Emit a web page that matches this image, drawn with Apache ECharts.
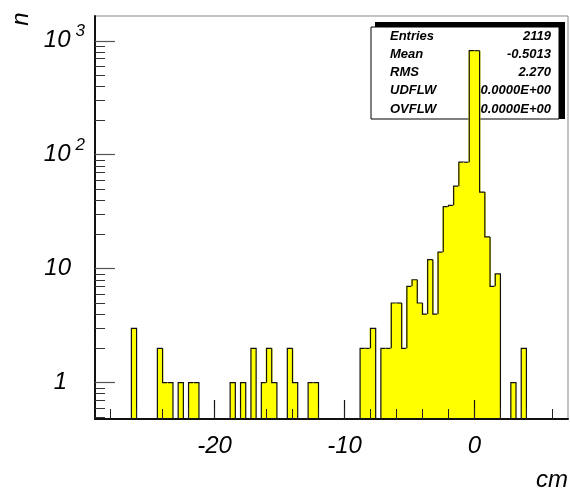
<!DOCTYPE html>
<html>
<head>
<meta charset="utf-8">
<script src="https://cdn.jsdelivr.net/npm/echarts@6/dist/echarts.min.js"></script>
<style>
html,body{margin:0;padding:0;background:#fff;}
#c{width:570px;height:490px;}
</style>
</head>
<body>
<div id="c"></div>
<script>
// ---- data ----
const binLow = -29.2;
const binWidth = 0.4;
const counts = [
  0,0,0,0,0,0,0,3,0,0,      // 0-9
  0,0,2,1,1,0,1,0,1,1,      // 10-19
  0,0,0,0,0,0,1,0,1,0,      // 20-29
  2,0,1,2,1,0,0,2,1,0,      // 30-39
  0,1,1,0,0,0,0,0,0,0,      // 40-49
  0,2,2,3,0,2,2,5,5,2,      // 50-59
  7,8,5,4,12,4,14,35,36,53, // 60-69
  86,86,819,819,47,19,7,9,0,0, // 70-79
  1,0,2,0,0,0,0,0,0,0,      // 80-89
  0                         // 90
];
const xMin = -29.2, xMax = 7.2;
const yMin = 0.48, yMax = 1650;
const xMajorTicks = [-20, -10, 0];
const xMinorTicks = [-28,-26,-24,-22,-20,-18,-16,-14,-12,-10,-8,-6,-4,-2,0,2,4,6];
const yMajorTicks = [1, 10, 100, 1000];
const yMinorTicks = [0.5,0.6,0.7,0.8,0.9,2,3,4,5,6,7,8,9,20,30,40,50,60,70,80,90,200,300,400,500,600,700,800,900];
const statLabels = ['Entries', 'Mean', 'RMS', 'UDFLW', 'OVFLW'];
const statValues = ['2119', '-0.5013', '2.270', '0.0000E+00', '0.0000E+00'];

// ---- build series data ----
const histData = [];
for (let i = 0; i < counts.length; i++) {
  if (counts[i] > 0) {
    const x0 = binLow + i * binWidth;
    histData.push([x0, x0 + binWidth, counts[i], i > 0 ? counts[i-1] : 0, i < counts.length - 1 ? counts[i+1] : 0]);
  }
}

const FONT = 'Liberation Sans, Arial, Helvetica, sans-serif';

function renderHist(params, api) {
  const x0 = api.value(0), x1 = api.value(1), c = api.value(2);
  const prev = api.value(3), next = api.value(4);
  const pTop0 = api.coord([x0, c]);
  const pTop1 = api.coord([x1, c]);
  const pBot = api.coord([x1, yMin]);
  const prevY = api.coord([x0, prev > 0 ? prev : yMin])[1];
  const pts = [[pTop0[0], prevY], [pTop0[0], pTop0[1]], [pTop1[0], pTop1[1]]];
  if (!(next > 0)) pts.push([pTop1[0], pBot[1]]);
  const padL = prev > 0 ? 0.8 : 0;
  const padR = next > 0 ? 0.8 : 0;
  return {
    type: 'group',
    children: [
      { type: 'rect', shape: { x: pTop0[0] - padL, y: pTop0[1], width: pTop1[0] - pTop0[0] + padL + padR, height: pBot[1] - pTop0[1] },
        style: { fill: '#ffff00' } },
      { type: 'polyline', shape: { points: pts }, style: { stroke: '#111', lineWidth: 1.2, fill: null } }
    ]
  };
}

const labelRich = {
  b: { fontSize: 24, fontStyle: 'italic', fontFamily: FONT, color: '#000', lineHeight: 36 },
  s: { fontSize: 17, fontStyle: 'italic', fontFamily: FONT, color: '#000', lineHeight: 18, verticalAlign: 'top', padding: [0, 0, 0, 5] },
  g1: { width: 18, lineHeight: 36 },
  g2: { width: 14, lineHeight: 36 }
};

function yFmt(v) {
  const e = Math.round(Math.log10(v));
  if (e === 0) return '{b|1}{g1| }';
  if (e === 1) return '{b|10}{g2| }';
  return '{b|10}{s|' + e + '}';
}

const statGraphics = [
  { type: 'rect', shape: { x: 375, y: 22, width: 190, height: 97 }, style: { fill: '#000' } },
  { type: 'rect', shape: { x: 371, y: 27, width: 188, height: 92 }, style: { fill: '#fff', stroke: '#000', lineWidth: 1 } }
];
statLabels.forEach((t, i) => {
  statGraphics.push({ type: 'text', x: 390, y: 36 + 18.3 * i,
    style: { text: t, font: 'italic bold 13px ' + FONT, fill: '#000', align: 'left', verticalAlign: 'middle' } });
  statGraphics.push({ type: 'text', x: 551, y: 36 + 18.3 * i,
    style: { text: statValues[i], font: 'italic bold 13px ' + FONT, fill: '#000', align: 'right', verticalAlign: 'middle' } });
});
statGraphics.push({ type: 'text', x: 21, y: 19, rotation: Math.PI / 2,
  style: { text: 'n', font: 'italic 24px ' + FONT, fill: '#000', align: 'center', verticalAlign: 'middle' } });
statGraphics.push({ type: 'text', x: 568, y: 480,
  style: { text: 'cm', font: 'italic 24px ' + FONT, fill: '#000', align: 'right', verticalAlign: 'middle' } });

const chart = echarts.init(document.getElementById('c'), null, { renderer: 'canvas' });
chart.setOption({
  animation: false,
  backgroundColor: '#fff',
  grid: { left: 95, right: 2, top: 16, bottom: 71, show: true, borderColor: '#888', borderWidth: 1, backgroundColor: 'transparent' },
  xAxis: [
    { type: 'value', min: xMin, max: xMax, position: 'bottom', z: 10,
      axisLine: { show: true, onZero: false, lineStyle: { color: '#111', width: 2 } },
      axisTick: { show: true, inside: true, length: 19, customValues: xMajorTicks, lineStyle: { color: '#111', width: 1.2 } },
      axisLabel: { show: true, customValues: xMajorTicks, margin: 15, fontSize: 24, fontStyle: 'italic', fontFamily: FONT, color: '#000' },
      splitLine: { show: false } },
    { type: 'value', min: xMin, max: xMax, position: 'bottom', z: 10,
      axisLine: { show: false, onZero: false },
      axisTick: { show: true, inside: true, length: 10, customValues: xMinorTicks, lineStyle: { color: '#222', width: 1 } },
      axisLabel: { show: false },
      splitLine: { show: false } }
  ],
  yAxis: [
    { type: 'log', logBase: 10, min: yMin, max: yMax, position: 'left', z: 10,
      axisLine: { show: true, onZero: false, lineStyle: { color: '#111', width: 2 } },
      axisTick: { show: true, inside: true, length: 20, customValues: yMajorTicks, lineStyle: { color: '#555', width: 1.2 } },
      axisLabel: { show: true, customValues: yMajorTicks, margin: 10, formatter: yFmt, rich: labelRich },
      splitLine: { show: false } },
    { type: 'log', logBase: 10, min: yMin, max: yMax, position: 'left', z: 10,
      axisLine: { show: false, onZero: false },
      axisTick: { show: true, inside: true, length: 10, customValues: yMinorTicks, lineStyle: { color: '#333', width: 1 } },
      axisLabel: { show: false },
      splitLine: { show: false } }
  ],
  graphic: { elements: statGraphics },
  series: [{
    type: 'custom',
    xAxisIndex: 0, yAxisIndex: 0,
    renderItem: renderHist,
    encode: { x: [0, 1], y: 2 },
    data: histData,
    clip: true
  }]
});
</script>
</body>
</html>
